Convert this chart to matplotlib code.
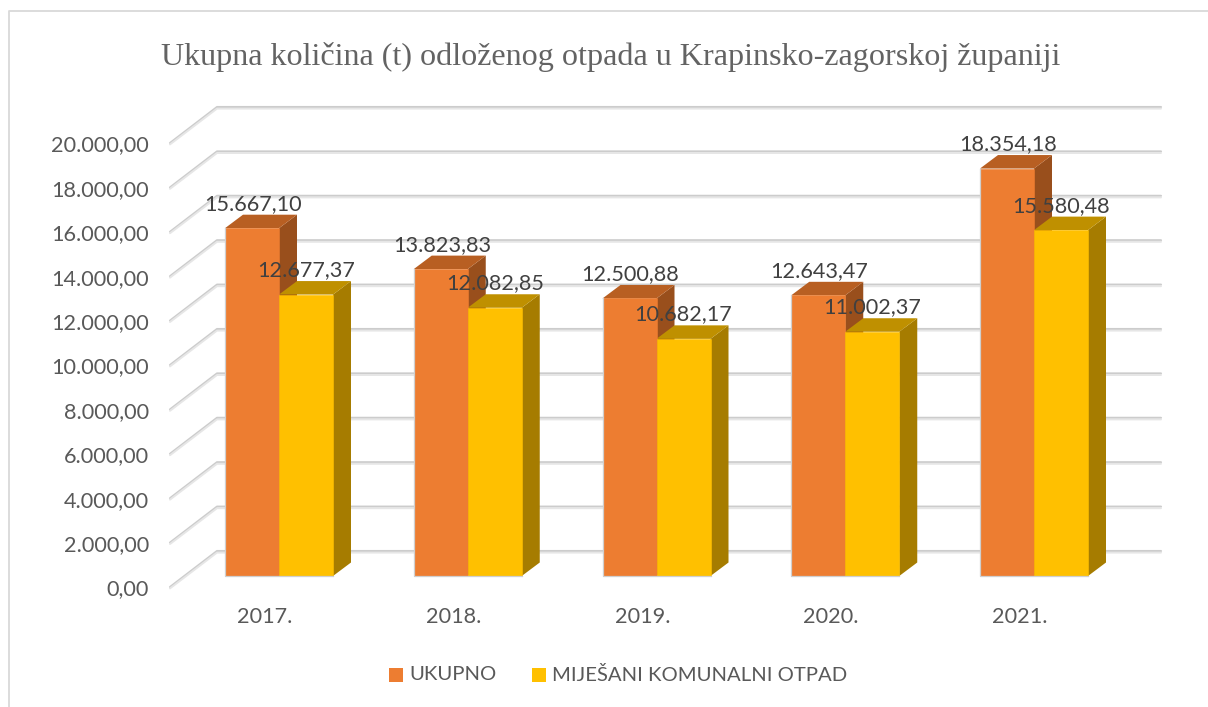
import matplotlib
matplotlib.use("Agg")
import matplotlib.pyplot as plt
from matplotlib.patches import Polygon, Rectangle
from matplotlib.lines import Line2D

years = ["2017.", "2018.", "2019.", "2020.", "2021."]
ukupno = [15667.10, 13823.83, 12500.88, 12643.47, 18354.18]
mijesani = [12677.37, 12082.85, 10682.17, 11002.37, 15580.48]
ukupno_labels = ["15.667,10", "13.823,83", "12.500,88", "12.643,47", "18.354,18"]
mijesani_labels = ["12.677,37", "12.082,85", "10.682,17", "11.002,37", "15.580,48"]
y_ticks = [0, 2000, 4000, 6000, 8000, 10000, 12000, 14000, 16000, 18000, 20000]
y_tick_labels = ["0,00", "2.000,00", "4.000,00", "6.000,00", "8.000,00", "10.000,00",
                 "12.000,00", "14.000,00", "16.000,00", "18.000,00", "20.000,00"]

W, H = 1208, 707
plt.rcParams["font.family"] = ["Lato", "DejaVu Sans"]

fig = plt.figure(figsize=(W / 100, H / 100), dpi=100)
ax = fig.add_axes([0, 0, 1, 1])
ax.axis("off")

# one category is 188.75 px wide, 1000 t is 22.2 px high
px_x = 188.75
px_y = 0.0222
x0 = 279
y0 = 576
ax.set_xlim(-x0 / px_x, (W - x0) / px_x)
ax.set_ylim(-(H - y0) / px_y, y0 / px_y)


def dx(p):
    return p / px_x


def dy(p):
    return p / px_y


# floor/wall gridlines
for v, lab in zip(y_ticks, y_tick_labels):
    y_front = v - dy(11)
    y_back = v + dy(25)
    xs = [dx(170 - x0), dx(217 - x0), dx(1161 - x0)]
    ys = [y_front, y_back, y_back]
    ax.plot(xs, ys, color="#cccccc", lw=1.5, solid_capstyle="round", zorder=1)
    ys2 = [y_front - dy(1.4), y_back - dy(1.6), y_back - dy(1.6)]
    ax.plot(xs, ys2, color="#e6e6e6", lw=1.4, solid_capstyle="round", zorder=1)
    ax.text(dx(149 - x0), y_front - dy(2.5), lab, ha="right", va="center", fontsize=15.6,
            color="#595959")

bar_w = dx(54)
depth_x = dx(18)
depth_y = dy(13.5)


def bar3d(left, val, front, top, side):
    right = left + bar_w
    ax.add_patch(Polygon([(right, 0), (right + depth_x, depth_y),
                          (right + depth_x, val + depth_y), (right, val)],
                         fc=side, ec="none", zorder=3))
    ax.add_patch(Polygon([(left, val), (left + depth_x, val + depth_y),
                          (right + depth_x, val + depth_y), (right, val)],
                         fc=top, ec="none", zorder=3))
    ax.add_patch(Rectangle((left, 0), bar_w, val, fc=front, ec=front, lw=0.4, zorder=4))


for i in range(len(years)):
    bar3d(i - bar_w, ukupno[i], "#ed7d31", "#b85f22", "#994f1c")
    bar3d(i, mijesani[i], "#ffc000", "#bf9000", "#a67c00")
    # thin grey edge on the left and along the floor
    ax.plot([i - bar_w, i - bar_w, i + bar_w], [ukupno[i], 0, 0], color="#cfcfcf", lw=0.9, zorder=5)
    # labels go on top of every bar, as in the original
    ax.text(i - dx(26), ukupno[i] + depth_y + dy(10.5), ukupno_labels[i], ha="center",
            va="center", fontsize=15.6, color="#404040", zorder=6)
    ax.text(i + dx(27), mijesani[i] + depth_y + dy(11), mijesani_labels[i], ha="center",
            va="center", fontsize=15.6, color="#404040", zorder=6)
    ax.text(i - dx(14), -dy(41), years[i], ha="center", va="center", fontsize=15.6,
            color="#595959")

# title
fig.text(611 / W, 1 - 57 / H, "Ukupna količina (t) odloženog otpada u Krapinsko-zagorskoj županiji",
         family="Liberation Serif", fontsize=23.15, color="#636363", ha="center", va="center")

# legend
fig.patches.append(Rectangle((389 / W, 1 - 682 / H), 14 / W, 14 / H, transform=fig.transFigure,
                             fc="#ed7d31", ec="none"))
fig.patches.append(Rectangle((532 / W, 1 - 682 / H), 14 / W, 14 / H, transform=fig.transFigure,
                             fc="#ffc000", ec="none"))
fig.text(409 / W, 1 - 675 / H, "UKUPNO", fontsize=14.6, color="#595959", va="center")
fig.text(552 / W, 1 - 675 / H, "MIJEŠANI KOMUNALNI OTPAD", fontsize=14.6, color="#595959", va="center")

# chart frame, only left and top show in the picture
fig.add_artist(Line2D([9 / W, 9 / W, 1], [0, 1 - 11 / H, 1 - 11 / H], color="#d9d9d9", lw=1.3))

fig.savefig("out.png", dpi=100)
